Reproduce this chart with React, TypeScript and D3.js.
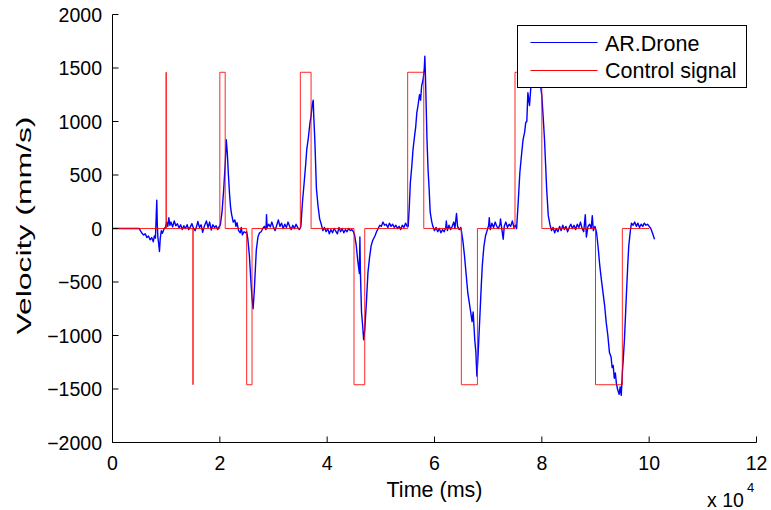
import React from 'react';
import * as d3 from 'd3';

const xTicks = [0, 20000, 40000, 60000, 80000, 100000, 120000];
const xTickLabels = ['0', '2', '4', '6', '8', '10', '12'];
const yTicks = [-2000, -1500, -1000, -500, 0, 500, 1000, 1500, 2000];
const yTickLabels = ['\u22122000', '\u22121500', '\u22121000', '\u2212500', '0', '500', '1000', '1500', '2000'];

const seriesNames = ['AR.Drone', 'Control signal'];
const seriesColors = ['#0000ff', '#ff0000'];

// Control signal pulses (ms, mm/s)
const pulseStart = [10000, 15000, 20000, 25000, 35000, 45000, 55000, 65000, 75000, 90000];
const pulseEnd = [10000, 15000, 21000, 26000, 37000, 47000, 58000, 68000, 80000, 95000];
const pulseLevel = [1460, -1460, 1460, -1460, 1460, -1460, 1460, -1460, 1460, -1460];
const controlEnd = 100000;

// AR.Drone measured velocity [ms, mm/s]
const droneSamples: [number, number][] = [
  [0, 0], [1000, 0], [2000, 0], [3000, 0], [4000, 0], [5000, 0], [5200, -20], [5500, -45], [5800, -60], [6100, -50],
  [6400, -85], [6700, -70], [7000, -105], [7300, -85], [7600, -125], [7800, -70], [8000, -90], [8150, 120], [8250, 265],
  [8350, 40], [8450, -80], [8600, -140], [8750, -215], [8900, -90], [9100, -20], [9300, -45], [9600, -5], [9900, 15],
  [10100, 60], [10300, 20], [10500, 100], [10700, 30], [10900, 60], [11200, 15], [11500, 70], [11800, 25], [12100, 45],
  [12400, 5], [12700, 35], [13000, -10], [13300, 25], [13600, 0], [13900, 35], [14200, -10], [14500, 15], [14800, 45],
  [15100, 0], [15400, -20], [15700, 25], [15900, 65], [16200, 10], [16500, 35], [16800, -35], [17100, 20], [17500, 70],
  [17800, 10], [18100, 60], [18400, -15], [18700, 35], [19000, 10], [19300, 25], [19600, -10], [19900, 20],
  [20100, 35], [20400, 150], [20700, 350], [21000, 600], [21200, 830], [21400, 700], [21600, 500], [21800, 330],
  [22000, 200], [22200, 130], [22500, 60], [22800, 80], [23000, 20], [23200, 55], [23500, -20], [23800, -40], [24000, 10],
  [24200, -60], [24500, -30], [24800, -40], [25000, -30],
  [25200, -90], [25500, -250], [25800, -500], [26000, -650], [26200, -750], [26400, -600], [26600, -400], [26800, -200],
  [27100, -80], [27400, -40], [27700, -30], [28000, 0], [28300, 20], [28600, -10], [28700, 130], [28800, 10], [29100, 40],
  [29400, 15], [29700, 60], [30000, 10], [30300, -20], [30600, 30], [30900, 80], [31200, 20], [31500, 50], [31800, 0],
  [32100, 40], [32400, 10], [32700, 60], [33000, 20], [33300, -10], [33600, 30], [33900, 0], [34200, 40], [34500, 10],
  [34800, -10], [35000, 5],
  [35100, 20], [35400, 250], [35700, 420], [36000, 600], [36200, 740], [36500, 850], [36800, 990], [37000, 1050],
  [37200, 1150], [37400, 1200], [37500, 1050], [37700, 830], [38000, 370], [38300, 210], [38600, 90], [38900, 40],
  [39200, -20], [39500, 10], [39800, -30], [40100, 0], [40400, -50], [40700, -10], [41000, -40], [41300, 0], [41600, -25],
  [41900, -50], [42200, 10], [42500, -30], [42800, 0], [43100, -40], [43400, -10], [43700, -30], [44000, 0], [44300, -20],
  [44600, -10], [44900, -30],
  [45100, -60], [45400, -150], [45700, -300], [46000, -420], [46100, -80], [46200, -420], [46400, -780], [46600, -900],
  [46800, -1040], [47000, -950], [47300, -700], [47600, -410], [47900, -270], [48200, -160], [48500, -110], [48900, -70],
  [49200, -30], [49500, 0], [49800, 30], [50100, 20], [50400, 60], [50700, 30], [51000, 40], [51300, 10], [51600, 50],
  [51900, 20], [52200, 40], [52500, 10], [52800, 30], [53100, 0], [53400, 20], [53700, -10], [54000, 30], [54300, 10],
  [54600, 50], [54900, 20],
  [55100, 20], [55300, 200], [55500, 430], [55800, 600], [56000, 740], [56300, 870], [56500, 950], [56700, 1080],
  [56900, 1140], [57200, 1250], [57400, 1200], [57600, 1330], [57900, 1400], [58100, 1500], [58200, 1610], [58300, 1450],
  [58450, 1150], [58600, 830], [58800, 550], [59000, 370], [59200, 150], [59500, 60], [59700, 20], [60000, -20],
  [60300, 10], [60600, -30], [60900, 0], [61200, -40], [61500, -10], [61800, -30], [62100, 10], [62200, 70], [62400, -20],
  [62700, 30], [63000, -10], [63300, 20], [63600, 60], [63800, 0], [64100, 140], [64300, 20], [64600, -10], [64900, 10],
  [65000, -20], [65300, -120], [65600, -260], [65900, -430], [66200, -600], [66500, -700], [66800, -800], [67000, -870],
  [67200, -780], [67500, -1040], [67700, -1150], [67900, -1380], [68100, -1200], [68400, -880], [68700, -550],
  [68900, -350], [69200, -170], [69500, -70], [69800, -20], [70100, 30], [70200, 100], [70400, -10], [70700, 50],
  [71000, 10], [71300, 60], [71600, 20], [71900, 0], [72200, 40], [72300, 90], [72500, 10], [72800, -100], [73000, 20],
  [73300, 60], [73600, 10], [73900, 40], [74200, 20], [74500, 70], [74800, 10], [75100, 30],
  [75300, 0], [75600, 250], [75900, 520], [76200, 680], [76500, 830], [76800, 900], [77000, 990], [77200, 1000],
  [77400, 1270], [77700, 1150], [78000, 1350], [78300, 1400], [78700, 1450], [79200, 1480], [79600, 1400], [80000, 1240],
  [80300, 1000], [80500, 830], [80700, 600], [80900, 370], [81200, 120], [81500, 40], [81800, -20], [82100, 10],
  [82400, -40], [82700, 0], [83000, -30], [83300, 20], [83600, -20], [83900, 30], [84200, -10], [84500, 20], [84800, -30],
  [85100, 10], [85400, 40], [85700, 0], [86000, 30], [86300, -10], [86600, 40], [86900, 10], [87200, 60], [87500, 0],
  [87800, -30], [88100, 130], [88300, -80], [88600, 20], [88900, 40], [89200, 0], [89400, 120], [89600, -20], [89900, 20],
  [90200, -40], [90500, -180], [90800, -350], [91100, -480], [91400, -600], [91700, -720], [92000, -880], [92300, -1000],
  [92600, -1160], [92900, -1200], [93100, -1300], [93300, -1280], [93500, -1400], [93700, -1350], [93900, -1450],
  [94100, -1500], [94400, -1550], [94600, -1480], [94800, -1560], [95000, -1350], [95200, -1200], [95400, -1030],
  [95600, -800], [95800, -570], [96000, -350], [96200, -160], [96500, -20], [96700, 50], [97000, 30], [97300, 60],
  [97600, 20], [97900, 50], [98200, 10], [98500, 40], [98800, 20], [99100, 50], [99400, 30], [99700, 40], [100000, 20],
  [100300, 0], [100600, -40], [101000, -100],
];

const W = 771;
const H = 510;
const FONT = '"Liberation Sans", Arial, Helvetica, sans-serif';

export default function App() {
  const x = d3.scaleLinear().domain([0, 120000]).range([112.5, 756.5]);
  const y = d3.scaleLinear().domain([-2000, 2000]).range([442.5, 14.5]);

  const controlPts: [number, number][] = [[0, 0]];
  pulseStart.forEach((s, i) => {
    controlPts.push([s, 0], [s, pulseLevel[i]], [pulseEnd[i], pulseLevel[i]], [pulseEnd[i], 0]);
  });
  controlPts.push([controlEnd, 0]);

  const line = d3.line<[number, number]>().x(d => x(d[0])).y(d => y(d[1]));

  const x0 = x(0);
  const y0 = y(-2000);
  const tickLen = 6;

  const legX = 517.5, legY = 25.5, legW = 229, legH = 62;

  return (
    <svg width={W} height={H} style={{ position: 'absolute', left: 0, top: 0, background: '#fff' }} fontFamily={FONT}>
      <rect x={0} y={0} width={W} height={H} fill="#fff" />
      <path d={line(droneSamples) || ''} fill="none" stroke={seriesColors[0]} strokeWidth={1.4} strokeLinejoin="round" />
      <path d={line(controlPts) || ''} fill="none" stroke={seriesColors[1]} strokeWidth={1} opacity={0.85} />

      {/* axes */}
      <line x1={x0} y1={y(2000)} x2={x0} y2={y0} stroke="#000" strokeWidth={1} />
      <line x1={x0} y1={y0} x2={x(120000)} y2={y0} stroke="#000" strokeWidth={1} />
      {xTicks.map((t, i) => (
        <g key={'xt' + i}>
          <line x1={x(t)} x2={x(t)} y1={y0} y2={y0 - tickLen} stroke="#000" strokeWidth={1} />
          <text x={x(t)} y={470} fontSize={19.5} textAnchor="middle" fill="#000">{xTickLabels[i]}</text>
        </g>
      ))}
      {yTicks.map((t, i) => (
        <g key={'yt' + i}>
          <line x1={x0} x2={x0 + tickLen} y1={y(t)} y2={y(t)} stroke="#000" strokeWidth={1} />
          <text x={102} y={y(t) + 7} fontSize={19.5} textAnchor="end" fill="#000">{yTickLabels[i]}</text>
        </g>
      ))}

      <text x={434.5} y={497} fontSize={21.5} textAnchor="middle" fill="#000">Time (ms)</text>
      <text transform={`translate(31, ${y(0) - 3}) rotate(-90)`} fontSize={21} textAnchor="middle" fill="#000"
        textLength={218} lengthAdjust="spacingAndGlyphs">Velocity (mm/s)</text>
      <text x={707} y={507} fontSize={19.5} fill="#000">x 10</text>
      <text x={747} y={492} fontSize={13} fill="#000">4</text>

      {/* legend */}
      <rect x={legX} y={legY} width={legW} height={legH} fill="#fff" stroke="#000" strokeWidth={1} />
      <line x1={530.5} x2={597.5} y1={42.5} y2={42.5} stroke={seriesColors[0]} strokeWidth={1} />
      <text x={605} y={50.7} fontSize={21.5} fill="#000">{seriesNames[0]}</text>
      <line x1={530.5} x2={597.5} y1={70.5} y2={70.5} stroke={seriesColors[1]} strokeWidth={1} />
      <text x={605} y={78.3} fontSize={21.5} fill="#000">{seriesNames[1]}</text>
    </svg>
  );
}
